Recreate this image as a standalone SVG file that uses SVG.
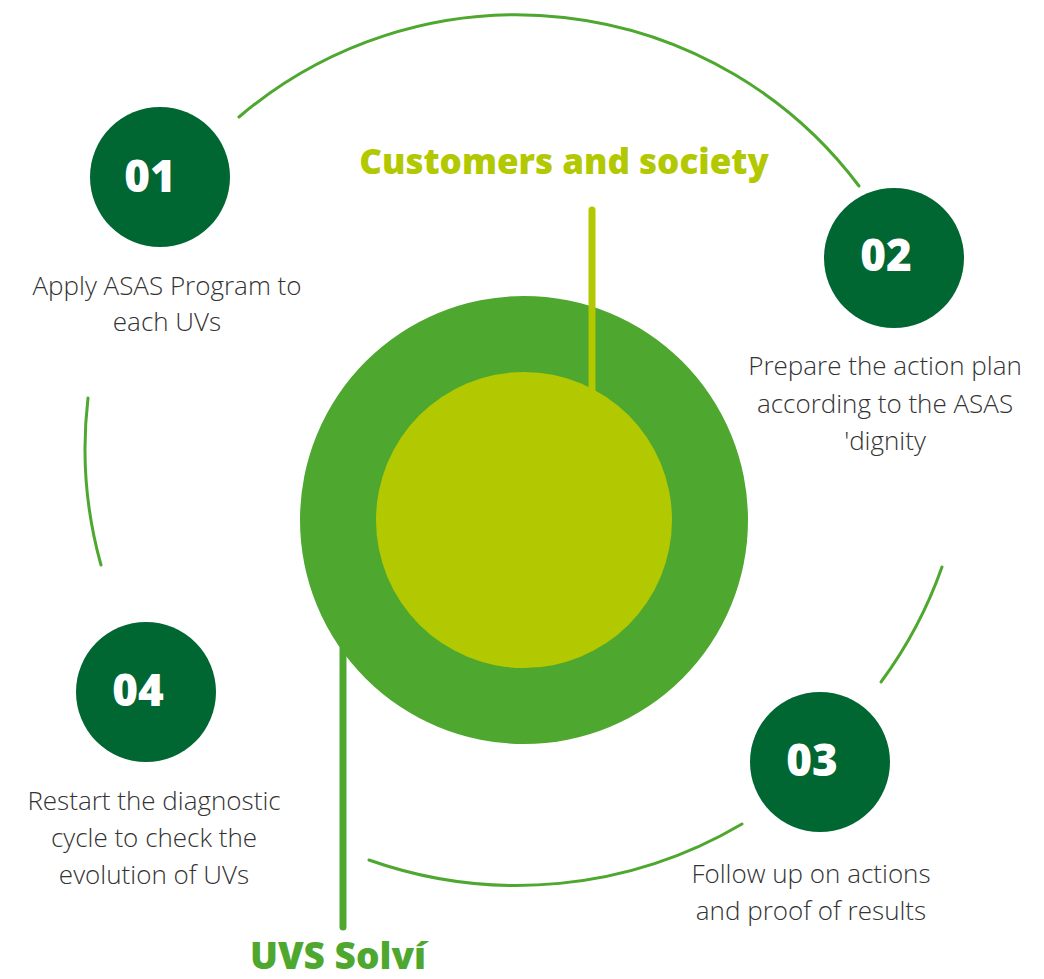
<svg xmlns="http://www.w3.org/2000/svg" width="1044" height="979" viewBox="0 0 1044 979">
<style>
.arc{fill:none;stroke:#4ea72e;stroke-width:3;stroke-linecap:round}
.num{fill:#006632}
.numt{font-family:"Open Sans","Liberation Sans",sans-serif;font-weight:800;font-size:44px;fill:#fff;text-anchor:middle}
.lbl{font-family:"Open Sans","Liberation Sans",sans-serif;font-weight:300;font-size:26px;fill:#333;text-anchor:middle}
.ttl{font-family:"Open Sans","Liberation Sans",sans-serif;font-weight:800;font-size:35px}
</style>
<rect width="1044" height="979" fill="#fff"/>
<g id="connectors">
<path class="arc" d="M239,117 A428,428 0 0 1 859,186"/>
<path class="arc" d="M88,398 A432,432 0 0 0 101,565"/>
<path class="arc" d="M942,567 A439,439 0 0 1 881,682"/>
<path class="arc" d="M369,860 A443,443 0 0 0 742,824"/>
</g>
<g id="center">
<circle cx="524" cy="520" r="224" fill="#4ea72e"/>
<circle cx="524" cy="520" r="148" fill="#b2c800"/>
<line x1="592" y1="210" x2="592" y2="390" stroke="#b2c800" stroke-width="7" stroke-linecap="round"/>
<line x1="343" y1="648" x2="343" y2="927" stroke="#4ea72e" stroke-width="7" stroke-linecap="round"/>
<text class="ttl" x="564" y="174" text-anchor="middle" fill="#b2c800">Customers and society</text>
<text class="ttl" x="338" y="969" text-anchor="middle" fill="#4ea72e" style="font-size:37px">UVS Solví</text>
</g>
<g id="step01">
<circle class="num" cx="160" cy="177" r="70"/>
<text class="numt" x="150" y="192">01</text>
<text class="lbl" x="167" y="295">Apply ASAS Program to</text>
<text class="lbl" x="167" y="331">each UVs</text>
</g>
<g id="step02">
<circle class="num" cx="894" cy="258" r="70"/>
<text class="numt" x="886" y="271">02</text>
<text class="lbl" x="885" y="375">Prepare the action plan</text>
<text class="lbl" x="885" y="413">according to the ASAS</text>
<text class="lbl" x="885" y="450">'dignity</text>
</g>
<g id="step03">
<circle class="num" cx="820" cy="762" r="70"/>
<text class="numt" x="812" y="776">03</text>
<text class="lbl" x="811" y="883">Follow up on actions</text>
<text class="lbl" x="811" y="920">and proof of results</text>
</g>
<g id="step04">
<circle class="num" cx="146" cy="692" r="70"/>
<text class="numt" x="138" y="706">04</text>
<text class="lbl" x="154" y="810">Restart the diagnostic</text>
<text class="lbl" x="154" y="847">cycle to check the</text>
<text class="lbl" x="154" y="884">evolution of UVs</text>
</g>
</svg>
